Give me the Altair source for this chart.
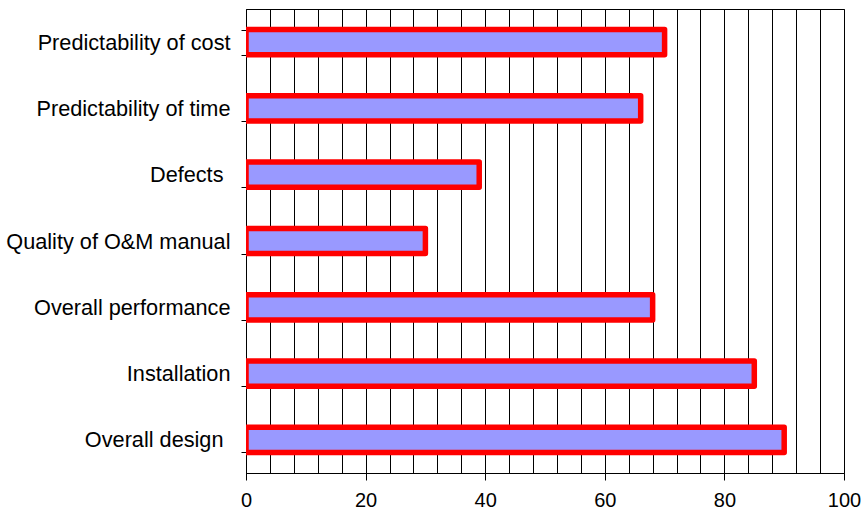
import altair as alt
import pandas as pd

categories = [
    "Predictability of cost",
    "Predictability of time",
    "Defects ",
    "Quality of O&M manual",
    "Overall performance",
    "Installation",
    "Overall design ",
]
values = [70, 66, 39, 30, 68, 85, 90]
grid_values = list(range(0, 101, 4))

df = pd.DataFrame({"category": categories, "value": values})

FONT = "Liberation Sans"

chart = (
    alt.Chart(df)
    .mark_bar(
        fill="#9999FF",
        stroke="#FF0000",
        strokeWidth=5.5,
        strokeJoin="round",
        clip=True,
    )
    .encode(
        x=alt.X(
            "value:Q",
            scale=alt.Scale(domain=[0, 100], nice=False, zero=True),
            axis=alt.Axis(
                values=grid_values,
                grid=True,
                gridColor="black",
                gridWidth=1,
                gridOpacity=1,
                domainColor="black",
                domainWidth=1,
                tickColor="black",
                tickSize=7,
                tickOpacity={"condition": {"test": "datum.value % 20 === 0", "value": 1}, "value": 0},
                labelExpr="datum.value % 20 === 0 ? datum.label : ''",
                labelFont=FONT,
                labelFontSize=20,
                labelColor="black",
                labelPadding=10,
                labelFlush=False,
                title=None,
            ),
        ),
        y=alt.Y(
            "category:N",
            sort=categories,
            scale=alt.Scale(paddingInner=0.62, paddingOuter=0.31),
            axis=alt.Axis(
                tickBand="extent",
                tickSize=5,
                tickColor="black",
                domainColor="black",
                domainWidth=1,
                labelFont=FONT,
                labelFontSize=21.7,
                labelColor="black",
                labelPadding={"condition": {"test": "slice(datum.label, -1) === ' '", "value": 18}, "value": 11},
                labelLimit=400,
                grid=False,
                title=None,
            ),
        ),
    )
    .properties(
        width=598,
        height=464,
        padding={"left": 246, "top": 9, "right": 19, "bottom": 40},
        autosize="none",
        background="white",
    )
    .configure_view(stroke="black", strokeWidth=1)
)

chart.save("out.html", embed_options={"renderer": "svg", "actions": False})
